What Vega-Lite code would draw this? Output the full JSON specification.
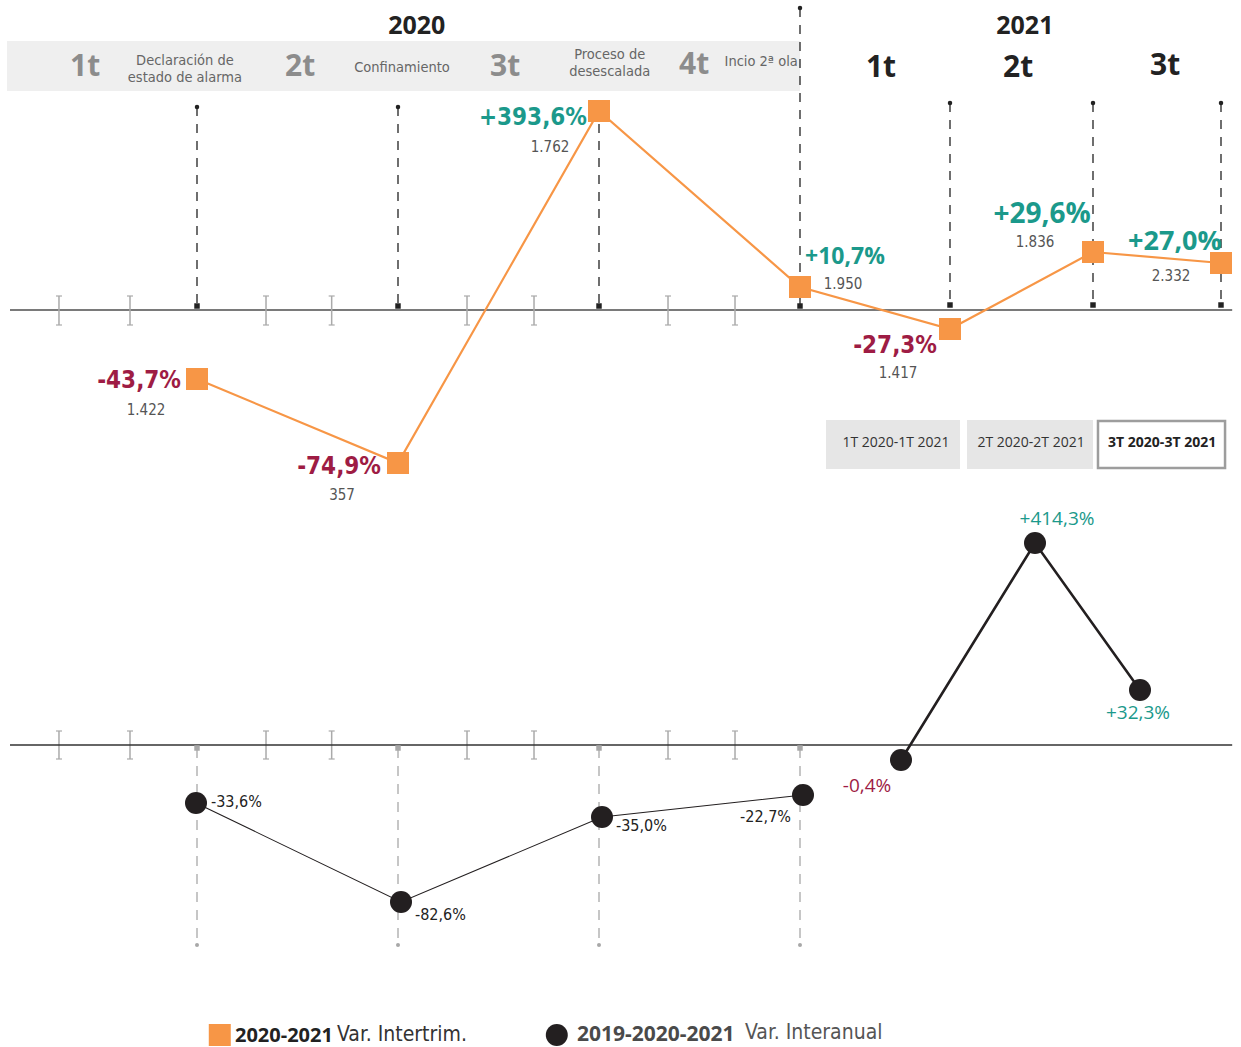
{
 "$schema": "https://vega.github.io/schema/vega-lite/v6.json",
 "width": 1241, "height": 1047,
 "autosize": {"type": "none"},
 "padding": 0,
 "background": "white",
 "config": {
  "view": {"stroke": null},
  "locale": {"number": {"decimal": ",", "thousands": ".", "grouping": [3], "currency": ["", "%"], "minus": "-"}}
 },
 "datasets": {
  "top": [
   {"q": "1T 2020", "m": 3, "pct": -43.7, "n": 1422},
   {"q": "2T 2020", "m": 6, "pct": -74.9, "n": 357},
   {"q": "3T 2020", "m": 9, "pct": 393.6, "n": 1762},
   {"q": "4T 2020", "m": 12, "pct": 10.7, "n": 1950},
   {"q": "1T 2021", "m": 15, "pct": -27.3, "n": 1417},
   {"q": "2T 2021", "m": 18, "pct": 29.6, "n": 1836},
   {"q": "3T 2021", "m": 21, "pct": 27.0, "n": 2332}
  ],
  "bot": [
   {"q": "1T 2020", "m": 3, "pct": -33.6},
   {"q": "2T 2020", "m": 6, "pct": -82.6},
   {"q": "3T 2020", "m": 9, "pct": -35.0},
   {"q": "4T 2020", "m": 12, "pct": -22.7},
   {"q": "1T 2021", "m": 15, "pct": -0.4},
   {"q": "2T 2021", "m": 18, "pct": 414.3},
   {"q": "3T 2021", "m": 21, "pct": 32.3}
  ],
  "vlines": [
   {"m": 3, "v": 107, "v2": 306}, {"m": 6, "v": 107, "v2": 306}, {"m": 9, "v": 107, "v2": 306},
   {"m": 12, "v": 8, "v2": 306}, {"m": 15, "v": 103, "v2": 305}, {"m": 18, "v": 103, "v2": 305},
   {"m": 21, "v": 103, "v2": 305}
  ],
  "bvlines": [
   {"m": 3, "v": 748, "v2": 945}, {"m": 6, "v": 748, "v2": 945}, {"m": 9, "v": 748, "v2": 945}, {"m": 12, "v": 748, "v2": 945}
  ],
  "ticks": [
   {"m": 0.94, "v": 296, "v2": 325}, {"m": 2, "v": 296, "v2": 325}, {"m": 4.03, "v": 296, "v2": 325}, {"m": 5.01, "v": 296, "v2": 325},
   {"m": 7.03, "v": 296, "v2": 325}, {"m": 8.03, "v": 296, "v2": 325}, {"m": 10.03, "v": 296, "v2": 325}, {"m": 11.03, "v": 296, "v2": 325},
   {"m": 0.94, "v": 731, "v2": 759}, {"m": 2, "v": 731, "v2": 759}, {"m": 4.03, "v": 731, "v2": 759}, {"m": 5.01, "v": 731, "v2": 759},
   {"m": 7.03, "v": 731, "v2": 759}, {"m": 8.03, "v": 731, "v2": 759}, {"m": 10.03, "v": 731, "v2": 759}, {"m": 11.03, "v": 731, "v2": 759}
  ]
 },
 "layer": [
  {
   "resolve": {"scale": {"y": "independent"}},
   "layer": [
    {
     "encoding": {
      "x": {"field": "m", "type": "quantitative", "scale": {"domain": [0, 12, 15, 18, 21, 22], "range": [-4, 800, 950, 1093, 1221, 1264], "nice": false, "zero": false}, "axis": null},
      "y": {"field": "v", "type": "quantitative", "scale": {"domain": [0, 1047], "range": [0, 1047], "nice": false, "zero": false}, "axis": null}
     },
     "layer": [
      {"data": {"values": [{"m": 0.164, "m2": 12, "v": 41, "v2": 91}]}, "mark": {"type": "rect", "fill": "#efefef"}, "encoding": {"x2": {"field": "m2"}, "y2": {"field": "v2"}}},
      {"data": {"values": [{"m": 12.52, "m2": 15.21, "v": 420, "v2": 469}, {"m": 15.357, "m2": 18, "v": 420, "v2": 469}]}, "mark": {"type": "rect", "fill": "#e6e6e6"}, "encoding": {"x2": {"field": "m2"}, "y2": {"field": "v2"}}},
      {"data": {"values": [{"m": 18.117, "m2": 21.094, "v": 421, "v2": 468}]}, "mark": {"type": "rect", "fill": "white", "stroke": "#9d9d9d", "strokeWidth": 2.5}, "encoding": {"x2": {"field": "m2"}, "y2": {"field": "v2"}}},
      {"data": {"name": "vlines"}, "mark": {"type": "rule", "color": "#222", "strokeDash": [9, 8], "strokeWidth": 1.3}, "encoding": {"y2": {"field": "v2"}}},
      {"data": {"name": "vlines"}, "mark": {"type": "point", "shape": "circle", "filled": true, "size": 20, "color": "#222", "opacity": 1}, "encoding": {}},
      {"data": {"name": "vlines"}, "mark": {"type": "point", "shape": "square", "filled": true, "size": 30, "color": "#222", "opacity": 1}, "encoding": {"y": {"field": "v2", "type": "quantitative"}}},
      {"data": {"values": [{"m": 0.209, "m2": 21.26, "v": 310}]}, "mark": {"type": "rule", "color": "#7a7a7a", "strokeWidth": 2}, "encoding": {"x2": {"field": "m2"}}},
      {"data": {"name": "ticks"}, "mark": {"type": "rule", "color": "#aaaaaa", "strokeWidth": 1.5}, "encoding": {"y2": {"field": "v2"}}},
      {"data": {"name": "ticks"}, "mark": {"type": "tick", "orient": "horizontal", "size": 6, "thickness": 1.2, "color": "#aaaaaa", "opacity": 1}, "encoding": {}},
      {"data": {"name": "ticks"}, "mark": {"type": "tick", "orient": "horizontal", "size": 6, "thickness": 1.2, "color": "#aaaaaa", "opacity": 1}, "encoding": {"y": {"field": "v2", "type": "quantitative"}}},
      {"data": {"values": [{"m": 0.209, "m2": 21.26, "v": 745}]}, "mark": {"type": "rule", "color": "#333", "strokeWidth": 1.5}, "encoding": {"x2": {"field": "m2"}}},
      {"data": {"name": "bvlines"}, "mark": {"type": "rule", "color": "#a8a8a8", "strokeDash": [10, 8], "strokeWidth": 1.3}, "encoding": {"y2": {"field": "v2"}}},
      {"data": {"name": "bvlines"}, "mark": {"type": "point", "shape": "square", "filled": true, "size": 30, "color": "#a8a8a8", "opacity": 1}, "encoding": {}},
      {"data": {"name": "bvlines"}, "mark": {"type": "point", "shape": "circle", "filled": true, "size": 16, "color": "#a8a8a8", "opacity": 1}, "encoding": {"y": {"field": "v2", "type": "quantitative"}}},
      {"data": {"values": [{"m": 6.28, "v": 26, "t": "2020"}, {"m": 16.57, "v": 26, "t": "2021"}]}, "mark": {"type": "text", "align": "center", "baseline": "middle", "font": "Open Sans", "fontWeight": "bold", "fontSize": 25, "color": "#222"}, "encoding": {"text": {"field": "t"}}},
      {"data": {"values": [{"m": 1.33, "v": 67, "t": "1t"}, {"m": 4.54, "v": 67, "t": "2t"}, {"m": 7.6, "v": 67, "t": "3t"}, {"m": 10.42, "v": 65, "t": "4t"}]}, "mark": {"type": "text", "align": "center", "baseline": "middle", "font": "Open Sans", "fontWeight": "bold", "fontSize": 30, "color": "#8c8c8c"}, "encoding": {"text": {"field": "t"}}},
      {"data": {"values": [{"m": 13.62, "v": 68, "t": "1t"}, {"m": 16.43, "v": 68, "t": "2t"}, {"m": 19.69, "v": 66, "t": "3t"}]}, "mark": {"type": "text", "align": "center", "baseline": "middle", "font": "Open Sans", "fontWeight": "bold", "fontSize": 30, "color": "#222"}, "encoding": {"text": {"field": "t"}}},
      {"data": {"values": [{"m": 2.82, "v": 61, "t": "Declaración de"}, {"m": 2.82, "v": 78, "t": "estado de alarma"}, {"m": 6.06, "v": 68, "t": "Confinamiento"}, {"m": 9.16, "v": 55, "t": "Proceso de"}, {"m": 9.16, "v": 72, "t": "desescalada"}, {"m": 11.42, "v": 62, "t": "Incio 2ª ola"}]}, "mark": {"type": "text", "align": "center", "baseline": "middle", "font": "DejaVu Sans Condensed, sans-serif", "fontSize": 14.5, "color": "#666"}, "encoding": {"text": {"field": "t"}}},
      {"data": {"values": [{"m": 13.92, "v": 443, "t": "1T 2020-1T 2021"}, {"m": 16.7, "v": 443, "t": "2T 2020-2T 2021"}]}, "mark": {"type": "text", "align": "center", "baseline": "middle", "font": "Open Sans", "fontSize": 14, "color": "#333"}, "encoding": {"text": {"field": "t"}}},
      {"data": {"values": [{"m": 19.62, "v": 443, "t": "3T 2020-3T 2021"}]}, "mark": {"type": "text", "align": "center", "baseline": "middle", "font": "Open Sans", "fontWeight": "bold", "fontSize": 14, "color": "#222"}, "encoding": {"text": {"field": "t"}}},
      {"data": {"values": [{"m": 3.34, "v": 1035}]}, "mark": {"type": "point", "shape": "square", "filled": true, "size": 484, "color": "#f79646", "opacity": 1}, "encoding": {}},
      {"data": {"values": [{"m": 8.37, "v": 1035}]}, "mark": {"type": "point", "shape": "circle", "filled": true, "size": 484, "color": "#231f20", "opacity": 1}, "encoding": {}},
      {"data": {"values": [{"m": 3.567, "v": 1036, "t": "2020-2021"}]}, "mark": {"type": "text", "align": "left", "baseline": "middle", "font": "Open Sans", "fontWeight": "bold", "fontSize": 20, "color": "#222"}, "encoding": {"text": {"field": "t"}}},
      {"data": {"values": [{"m": 8.67, "v": 1035, "t": "2019-2020-2021"}]}, "mark": {"type": "text", "align": "left", "baseline": "middle", "font": "Open Sans", "fontWeight": "bold", "fontSize": 21, "color": "#4a4a4a"}, "encoding": {"text": {"field": "t"}}},
      {"data": {"values": [{"m": 5.09, "v": 1035, "t": "Var. Intertrim."}]}, "mark": {"type": "text", "align": "left", "baseline": "middle", "font": "DejaVu Sans Condensed, sans-serif", "fontSize": 21, "color": "#333"}, "encoding": {"text": {"field": "t"}}},
      {"data": {"values": [{"m": 11.18, "v": 1033, "t": "Var. Interanual"}]}, "mark": {"type": "text", "align": "left", "baseline": "middle", "font": "DejaVu Sans Condensed, sans-serif", "fontSize": 21, "color": "#555"}, "encoding": {"text": {"field": "t"}}}
     ]
    },
    {
     "data": {"name": "top"},
     "encoding": {
      "x": {"field": "m", "type": "quantitative", "scale": {"domain": [0, 12, 15, 18, 21, 22], "range": [-4, 800, 950, 1093, 1221, 1264], "nice": false, "zero": false}, "axis": null},
      "y": {"field": "pct", "type": "quantitative", "scale": {"domain": [-74.9, -43.7, -27.3, 0, 10.7, 27.0, 29.6, 393.6], "range": [463, 379, 329, 310, 287, 263, 252, 111], "nice": false, "zero": false}, "axis": null}
     },
     "layer": [
      {"mark": {"type": "line", "color": "#f79646", "strokeWidth": 2.2}, "encoding": {}},
      {"mark": {"type": "point", "shape": "square", "filled": true, "size": 484, "color": "#f79646", "opacity": 1}, "encoding": {}},
      {"transform": [{"filter": "datum.m == 3"}], "mark": {"type": "text", "align": "right", "baseline": "middle", "dx": -16, "dy": 2, "font": "DejaVu Sans Condensed, sans-serif", "fontWeight": "bold", "fontSize": 24}, "encoding": {"text": {"field": "pct", "type": "quantitative", "format": "+$.1f"}, "color": {"condition": {"test": "datum.pct > 0", "value": "#1b998b"}, "value": "#9e1c44"}}},
      {"transform": [{"filter": "datum.m == 6"}], "mark": {"type": "text", "align": "right", "baseline": "middle", "dx": -17, "dy": 4, "font": "DejaVu Sans Condensed, sans-serif", "fontWeight": "bold", "fontSize": 24}, "encoding": {"text": {"field": "pct", "type": "quantitative", "format": "+$.1f"}, "color": {"condition": {"test": "datum.pct > 0", "value": "#1b998b"}, "value": "#9e1c44"}}},
      {"transform": [{"filter": "datum.m == 9"}], "mark": {"type": "text", "align": "right", "baseline": "middle", "dx": -12, "dy": 7, "font": "DejaVu Sans Condensed, sans-serif", "fontWeight": "bold", "fontSize": 24}, "encoding": {"text": {"field": "pct", "type": "quantitative", "format": "+$.1f"}, "color": {"condition": {"test": "datum.pct > 0", "value": "#1b998b"}, "value": "#9e1c44"}}},
      {"transform": [{"filter": "datum.m == 12"}], "mark": {"type": "text", "align": "left", "baseline": "middle", "dx": 5, "dy": -30, "font": "Open Sans", "fontWeight": "bold", "fontSize": 23}, "encoding": {"text": {"field": "pct", "type": "quantitative", "format": "+$.1f"}, "color": {"condition": {"test": "datum.pct > 0", "value": "#1b998b"}, "value": "#9e1c44"}}},
      {"transform": [{"filter": "datum.m == 15"}], "mark": {"type": "text", "align": "right", "baseline": "middle", "dx": -13, "dy": 17, "font": "DejaVu Sans Condensed, sans-serif", "fontWeight": "bold", "fontSize": 24}, "encoding": {"text": {"field": "pct", "type": "quantitative", "format": "+$.1f"}, "color": {"condition": {"test": "datum.pct > 0", "value": "#1b998b"}, "value": "#9e1c44"}}},
      {"transform": [{"filter": "datum.m == 18"}], "mark": {"type": "text", "align": "center", "baseline": "middle", "dx": -51, "dy": -37, "font": "Open Sans", "fontWeight": "bold", "fontSize": 28}, "encoding": {"text": {"field": "pct", "type": "quantitative", "format": "+$.1f"}, "color": {"condition": {"test": "datum.pct > 0", "value": "#1b998b"}, "value": "#9e1c44"}}},
      {"transform": [{"filter": "datum.m == 21"}], "mark": {"type": "text", "align": "center", "baseline": "middle", "dx": -46, "dy": -21, "font": "Open Sans", "fontWeight": "bold", "fontSize": 27}, "encoding": {"text": {"field": "pct", "type": "quantitative", "format": "+$.1f"}, "color": {"condition": {"test": "datum.pct > 0", "value": "#1b998b"}, "value": "#9e1c44"}}},
      {"transform": [{"filter": "datum.m == 3"}], "mark": {"type": "text", "align": "center", "baseline": "middle", "dx": -51, "dy": 31, "font": "DejaVu Sans Condensed, sans-serif", "fontSize": 15, "color": "#555"}, "encoding": {"text": {"field": "n", "type": "quantitative", "format": ",d"}}},
      {"transform": [{"filter": "datum.m == 6"}], "mark": {"type": "text", "align": "center", "baseline": "middle", "dx": -56, "dy": 32, "font": "DejaVu Sans Condensed, sans-serif", "fontSize": 15, "color": "#555"}, "encoding": {"text": {"field": "n", "type": "quantitative", "format": ",d"}}},
      {"transform": [{"filter": "datum.m == 9"}], "mark": {"type": "text", "align": "center", "baseline": "middle", "dx": -49, "dy": 36, "font": "DejaVu Sans Condensed, sans-serif", "fontSize": 15, "color": "#555"}, "encoding": {"text": {"field": "n", "type": "quantitative", "format": ",d"}}},
      {"transform": [{"filter": "datum.m == 12"}], "mark": {"type": "text", "align": "center", "baseline": "middle", "dx": 43, "dy": -3, "font": "DejaVu Sans Condensed, sans-serif", "fontSize": 15, "color": "#555"}, "encoding": {"text": {"field": "n", "type": "quantitative", "format": ",d"}}},
      {"transform": [{"filter": "datum.m == 15"}], "mark": {"type": "text", "align": "center", "baseline": "middle", "dx": -52, "dy": 44, "font": "DejaVu Sans Condensed, sans-serif", "fontSize": 15, "color": "#555"}, "encoding": {"text": {"field": "n", "type": "quantitative", "format": ",d"}}},
      {"transform": [{"filter": "datum.m == 18"}], "mark": {"type": "text", "align": "center", "baseline": "middle", "dx": -58, "dy": -10, "font": "DejaVu Sans Condensed, sans-serif", "fontSize": 15, "color": "#555"}, "encoding": {"text": {"field": "n", "type": "quantitative", "format": ",d"}}},
      {"transform": [{"filter": "datum.m == 21"}], "mark": {"type": "text", "align": "center", "baseline": "middle", "dx": -50, "dy": 13, "font": "DejaVu Sans Condensed, sans-serif", "fontSize": 15, "color": "#555"}, "encoding": {"text": {"field": "n", "type": "quantitative", "format": ",d"}}}
     ]
    }
   ]
  },
  {
   "data": {"name": "bot"},
   "encoding": {
    "x": {"field": "m", "type": "quantitative", "scale": {"domain": [0, 3, 6, 9, 12, 15, 18, 21], "range": [-4, 196, 401, 602, 803, 901, 1035, 1140], "nice": false, "zero": false}, "axis": null},
    "y": {"field": "pct", "type": "quantitative", "scale": {"domain": [-82.6, -35.0, -33.6, -22.7, -0.4, 0, 32.3, 414.3], "range": [902, 817, 803, 795, 760, 745, 690, 543], "nice": false, "zero": false}, "axis": null}
   },
   "layer": [
    {"transform": [{"filter": "datum.m <= 12"}], "mark": {"type": "line", "color": "#231f20", "strokeWidth": 1.1}, "encoding": {}},
    {"transform": [{"filter": "datum.m >= 15"}], "mark": {"type": "line", "color": "#231f20", "strokeWidth": 2.6}, "encoding": {}},
    {"mark": {"type": "point", "shape": "circle", "filled": true, "size": 484, "color": "#231f20", "opacity": 1}, "encoding": {}},
    {"transform": [{"filter": "datum.m == 3"}], "mark": {"type": "text", "align": "left", "baseline": "middle", "dx": 15, "dy": -1, "font": "DejaVu Sans Condensed, sans-serif", "fontSize": 16, "color": "#222"}, "encoding": {"text": {"field": "pct", "type": "quantitative", "format": "+$.1f"}}},
    {"transform": [{"filter": "datum.m == 6"}], "mark": {"type": "text", "align": "left", "baseline": "middle", "dx": 14, "dy": 13, "font": "DejaVu Sans Condensed, sans-serif", "fontSize": 16, "color": "#222"}, "encoding": {"text": {"field": "pct", "type": "quantitative", "format": "+$.1f"}}},
    {"transform": [{"filter": "datum.m == 9"}], "mark": {"type": "text", "align": "left", "baseline": "middle", "dx": 14, "dy": 9, "font": "DejaVu Sans Condensed, sans-serif", "fontSize": 16, "color": "#222"}, "encoding": {"text": {"field": "pct", "type": "quantitative", "format": "+$.1f"}}},
    {"transform": [{"filter": "datum.m == 12"}], "mark": {"type": "text", "align": "right", "baseline": "middle", "dx": -12, "dy": 22, "font": "DejaVu Sans Condensed, sans-serif", "fontSize": 16, "color": "#222"}, "encoding": {"text": {"field": "pct", "type": "quantitative", "format": "+$.1f"}}},
    {"transform": [{"filter": "datum.m == 15"}], "mark": {"type": "text", "align": "center", "baseline": "middle", "dx": -34, "dy": 26, "font": "Open Sans", "fontSize": 19, "color": "#9e1c44"}, "encoding": {"text": {"field": "pct", "type": "quantitative", "format": "+$.1f"}}},
    {"transform": [{"filter": "datum.m == 18"}], "mark": {"type": "text", "align": "center", "baseline": "middle", "dx": 22, "dy": -24, "font": "Open Sans", "fontSize": 19, "color": "#1b998b"}, "encoding": {"text": {"field": "pct", "type": "quantitative", "format": "+$.1f"}}},
    {"transform": [{"filter": "datum.m == 21"}], "mark": {"type": "text", "align": "center", "baseline": "middle", "dx": -2, "dy": 23, "font": "Open Sans", "fontSize": 19, "color": "#1b998b"}, "encoding": {"text": {"field": "pct", "type": "quantitative", "format": "+$.1f"}}}
   ]
  }
 ],
 "resolve": {"scale": {"x": "independent", "y": "independent"}}
}
